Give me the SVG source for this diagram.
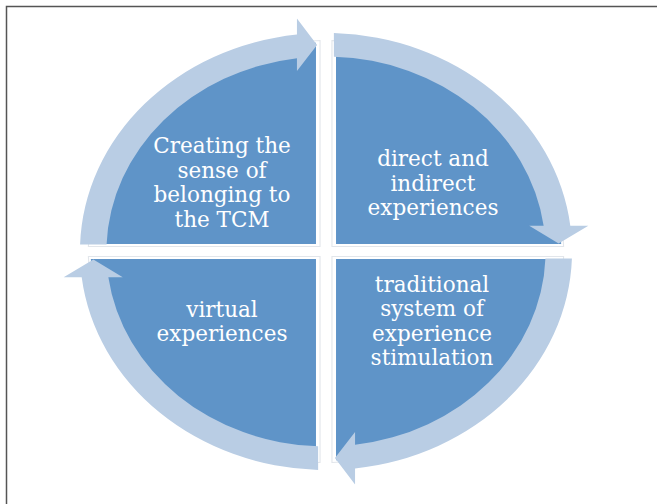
<svg xmlns="http://www.w3.org/2000/svg" xmlns:xlink="http://www.w3.org/1999/xlink" width="657" height="504" viewBox="0 0 657 504">
  <style>
    .quad { fill: #5f94c8; }
    .outline { fill: #ffffff; stroke: #e2e6eb; stroke-width: 1; vector-effect: non-scaling-stroke; }
    .ring { fill: #b9cde4; }
    .label { font-family: "DejaVu Serif", "Liberation Serif", serif; font-size: 21.5px; fill: #ffffff; text-anchor: middle; }
  </style>
  <defs>
    <path id="quadShape" d="M 8.9,7.5 H 208.87 A 209 209 0 0 1 8.9,208.81 Z"/>
    <path id="quadOutline" d="M 5.3,5 H 211 A 211 211 0 0 1 5.3,211 Z"/>
    <path id="arrowShape" d="M 218.39,7 A 218.5 218.5 0 0 1 25.8,216.97 L 25.8,233 L 7.94,206.6 L 25.8,180.5 L 25.8,193.29 A 195 195 0 0 0 194.87,7 Z"/>
  </defs>
  <rect x="0" y="0" width="657" height="504" fill="#ffffff"/>
  <rect x="6.5" y="6.5" width="700" height="600" fill="none" stroke="#555555" stroke-width="1.5"/>

  <g transform="translate(326,251.5) scale(1.126,1)">
    <g id="quadrant-outlines">
      <use xlink:href="#quadOutline" class="outline" transform="scale(-1,-1)"/>
      <use xlink:href="#quadOutline" class="outline" transform="scale(1,-1)"/>
      <use xlink:href="#quadOutline" class="outline" transform="scale(-1,1)"/>
      <use xlink:href="#quadOutline" class="outline"/>
    </g>
    <g id="node-belonging-shape"><use xlink:href="#quadShape" class="quad" transform="scale(-1,-1)"/></g>
    <g id="node-direct-shape"><use xlink:href="#quadShape" class="quad" transform="scale(1,-1)"/></g>
    <g id="node-virtual-shape"><use xlink:href="#quadShape" class="quad" transform="scale(-1,1)"/></g>
    <g id="node-traditional-shape"><use xlink:href="#quadShape" class="quad"/></g>
    <g id="connectors">
      <use xlink:href="#arrowShape" class="ring" transform="rotate(180)"/>
      <use xlink:href="#arrowShape" class="ring" transform="rotate(270)"/>
      <use xlink:href="#arrowShape" class="ring"/>
      <use xlink:href="#arrowShape" class="ring" transform="rotate(90)"/>
    </g>
  </g>

  <g id="node-belonging">
    <text class="label" x="222" y="153">Creating the</text>
    <text class="label" x="222" y="177.5">sense of</text>
    <text class="label" x="222" y="202">belonging to</text>
    <text class="label" x="222" y="226.5">the TCM</text>
  </g>
  <g id="node-direct">
    <text class="label" x="433" y="166">direct and</text>
    <text class="label" x="433" y="190.5">indirect</text>
    <text class="label" x="433" y="215">experiences</text>
  </g>
  <g id="node-virtual">
    <text class="label" x="222" y="317">virtual</text>
    <text class="label" x="222" y="341">experiences</text>
  </g>
  <g id="node-traditional">
    <text class="label" x="432" y="292">traditional</text>
    <text class="label" x="432" y="316">system of</text>
    <text class="label" x="432" y="341">experience</text>
    <text class="label" x="432" y="365">stimulation</text>
  </g>
</svg>
